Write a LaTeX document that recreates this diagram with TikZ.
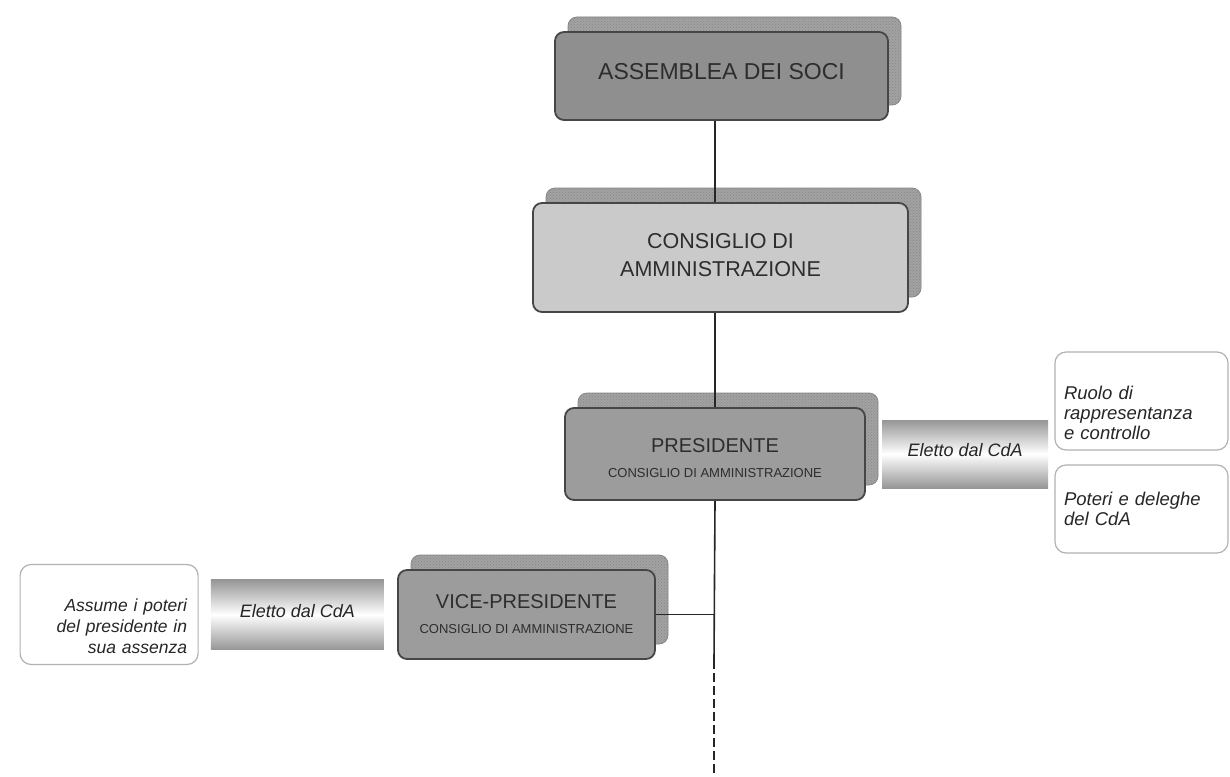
\documentclass[tikz,border=0pt]{standalone}
\usepackage{fontspec}
\setmainfont{Liberation Sans}
\usetikzlibrary{positioning,shadows,patterns}

\definecolor{boxedge}{RGB}{70,70,70}
\definecolor{darkfill}{RGB}{143,143,143}
\definecolor{midfill}{RGB}{156,156,156}
\definecolor{lightfill}{RGB}{202,202,202}
\definecolor{shadowgray}{RGB}{162,162,162}
\definecolor{shadowedge}{RGB}{135,135,135}
\definecolor{bargray}{RGB}{150,150,150}
\definecolor{sideedge}{RGB}{178,178,178}
\definecolor{textgray}{RGB}{45,45,45}

\begin{document}
\begin{tikzpicture}[x=1pt, y=-1pt,
    orgbox/.style={rectangle, rounded corners=9pt, draw=boxedge, line width=1.8pt, inner sep=0pt, align=center, text=textgray,
        drop shadow={shadow xshift=13pt, shadow yshift=15pt, fill=shadowgray, draw=shadowedge, line width=0.8pt, opacity=1,
            postaction={pattern=crosshatch dots, pattern color=gray!95}}},
    eletto/.style={rectangle, inner sep=0pt, top color=bargray, bottom color=bargray, middle color=white, text depth=8pt,
        font=\fontsize{18}{20}\selectfont\itshape, text=black!85},
    sidebox/.style={rectangle, rounded corners=11pt, draw=sideedge, line width=1.2pt, fill=white, inner xsep=9pt,
        text width=155pt, minimum width=173pt, font=\fontsize{18.5}{20}\selectfont\itshape, text=black!85},
    spine/.style={draw=black!85, line width=1.6pt},
]

\useasboundingbox[fill=white] (0,0) rectangle (1230,776);

% Main chain of the organisation
\node[orgbox, fill=darkfill, minimum width=333pt, minimum height=88pt, text depth=10pt,
    font=\fontsize{23}{27}\selectfont] (assemblea) at (721.5,76) {ASSEMBLEA DEI SOCI};
\node[orgbox, fill=lightfill, minimum width=375pt, minimum height=109pt, text depth=6pt,
    font=\fontsize{21.5}{28}\selectfont] (consiglio) at (720.5,257.5) {CONSIGLIO DI\\AMMINISTRAZIONE};
\node[orgbox, fill=midfill, minimum width=300pt, minimum height=92pt, text height=48pt,
    font=\fontsize{20}{25}\selectfont] (presidente) at (715,454)
    {PRESIDENTE\\{\fontsize{13}{15}\selectfont CONSIGLIO DI AMMINISTRAZIONE}};
\node[orgbox, fill=midfill, minimum width=257pt, minimum height=89pt,
    font=\fontsize{20}{25}\selectfont] (vice) at (526.5,614.5)
    {VICE-PRESIDENTE\\{\fontsize{13}{15}\selectfont CONSIGLIO DI AMMINISTRAZIONE}};

% Presidente side
\node[eletto, minimum width=166pt, minimum height=68pt, right=16pt of presidente] (elettopres) {Eletto dal CdA};
\node[sidebox, minimum height=98pt, text height=37pt] (ruolo) at (1141.5,401) {Ruolo di\\rappresentanza\\e controllo};
\node[sidebox, minimum height=88pt] (poteri) at (1141.5,509) {Poteri e deleghe\\del CdA};

% Vice-presidente side
\node[eletto, minimum width=173pt, minimum height=70pt, left=13pt of vice] (elettovice) {Eletto dal CdA};
\node[sidebox, minimum width=178pt, text width=156pt, align=right, minimum height=100pt, text height=37pt,
    font=\fontsize{17.5}{21}\selectfont\itshape, left=12pt of elettovice] (assume) {Assume i poteri\\del presidente in\\sua assenza};

% Connectors
\coordinate (dashstart) at (714,660);
\coordinate (dashend) at (714,776);
\draw[spine] (assemblea.south -| presidente.north) -- (consiglio.north -| presidente.north);
\draw[spine] (consiglio.south -| presidente.north) -- (presidente.north);
\draw[spine] (presidente.south) -- (dashstart);
\draw[spine] (vice.east) -- (vice.east -| presidente.south);
\draw[spine, line width=2pt, dash pattern=on 9pt off 4pt] (dashstart) -- (dashend);

\end{tikzpicture}
\end{document}
